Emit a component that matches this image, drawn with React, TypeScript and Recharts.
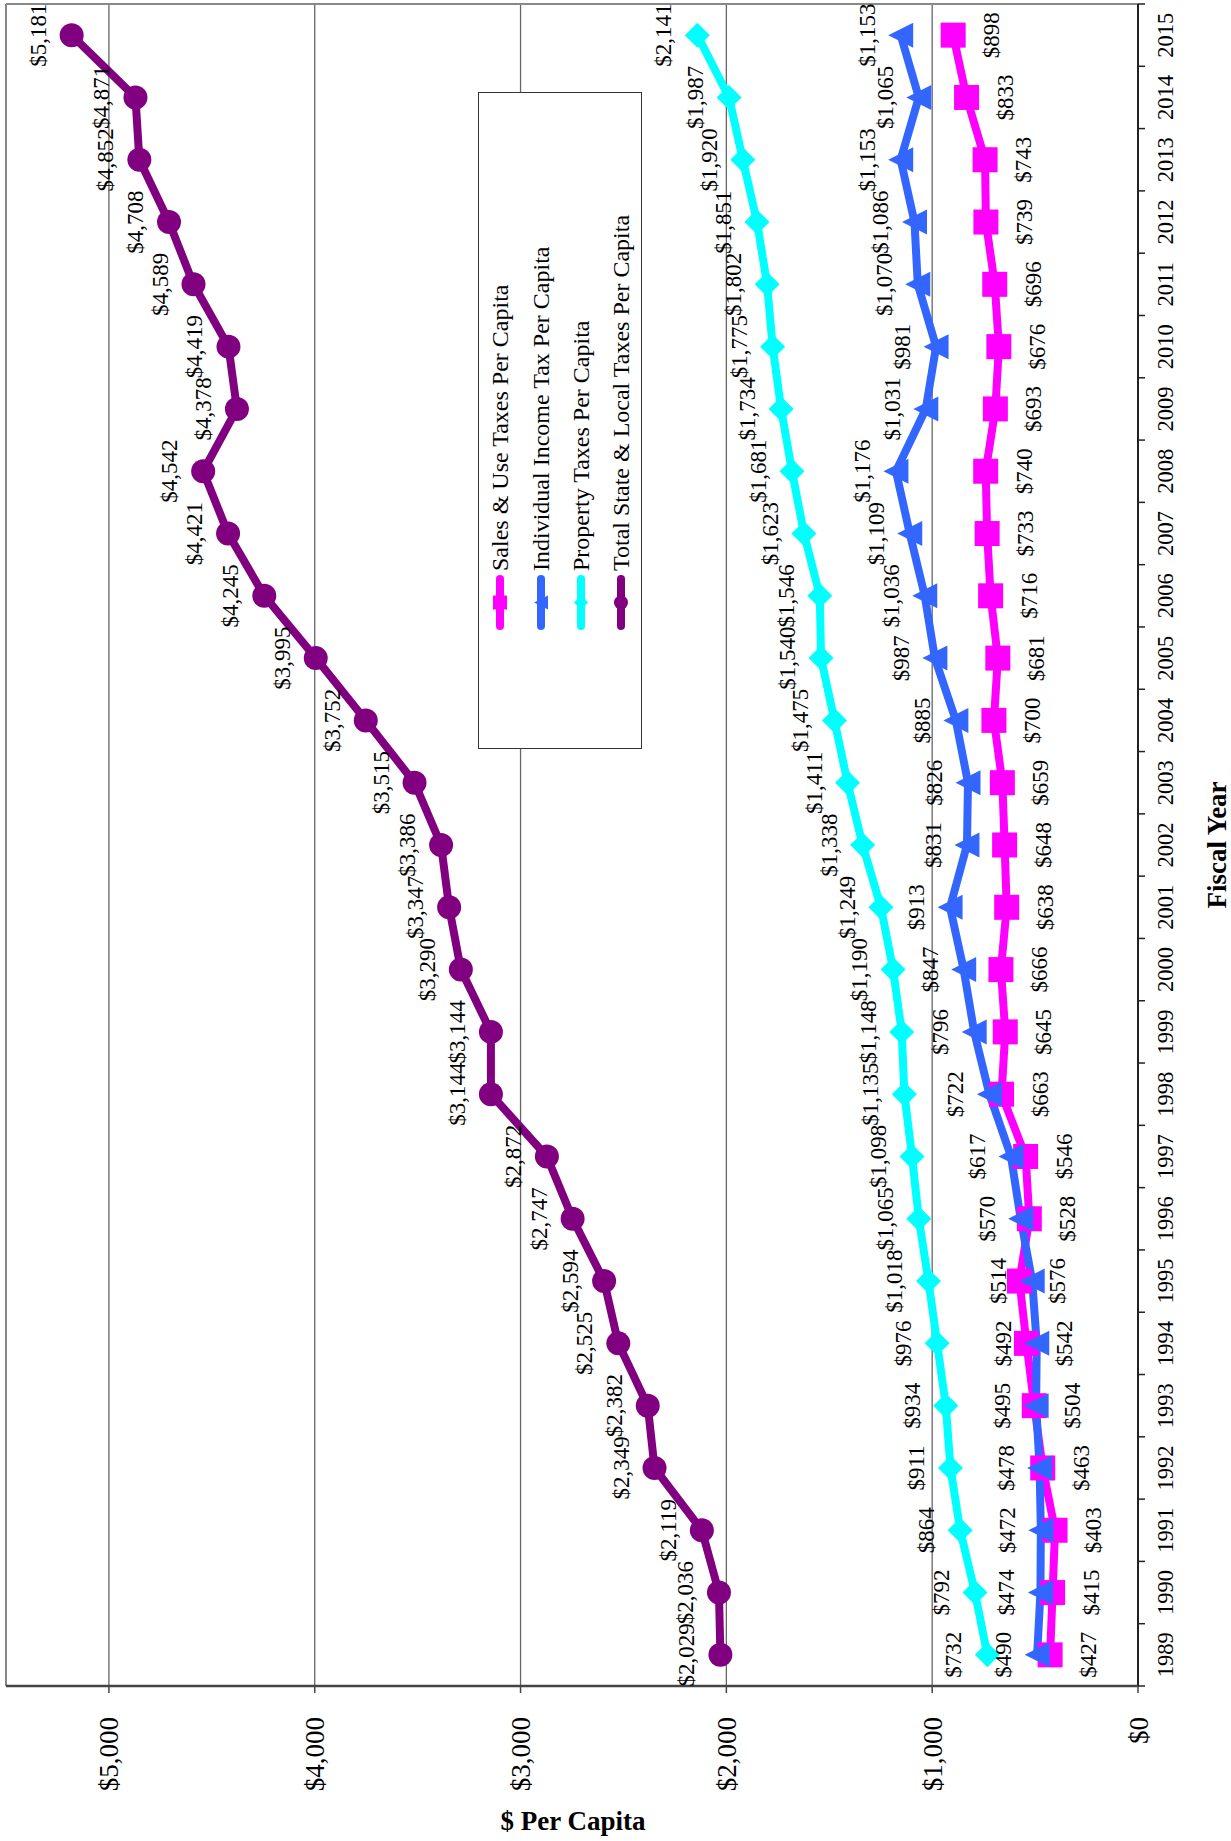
import {
  CartesianGrid,
  Label,
  LabelList,
  Line,
  LineChart,
  ReferenceLine,
  XAxis,
  YAxis,
} from 'recharts'

const years = [
  1989, 1990, 1991, 1992, 1993, 1994, 1995, 1996, 1997, 1998, 1999, 2000, 2001,
  2002, 2003, 2004, 2005, 2006, 2007, 2008, 2009, 2010, 2011, 2012, 2013, 2014,
  2015,
]
const salesUse = [
  427, 415, 403, 463, 504, 542, 576, 528, 546, 663, 645, 666, 638, 648, 659,
  700, 681, 716, 733, 740, 693, 676, 696, 739, 743, 833, 898,
]
const incomeTax = [
  490, 474, 472, 478, 495, 492, 514, 570, 617, 722, 796, 847, 913, 831, 826,
  885, 987, 1036, 1109, 1176, 1031, 981, 1070, 1086, 1153, 1065, 1153,
]
const propertyTax = [
  732, 792, 864, 911, 934, 976, 1018, 1065, 1098, 1135, 1148, 1190, 1249, 1338,
  1411, 1475, 1540, 1546, 1623, 1681, 1734, 1775, 1802, 1851, 1920, 1987, 2141,
]
const totalTax = [
  2029, 2036, 2119, 2349, 2382, 2525, 2594, 2747, 2872, 3144, 3144, 3290, 3347,
  3386, 3515, 3752, 3995, 4245, 4421, 4542, 4378, 4419, 4589, 4708, 4852, 4871,
  5181,
]
const valueTicks = [0, 1000, 2000, 3000, 4000, 5000]

const seriesNames = [
  'Sales & Use Taxes Per Capita',
  'Individual Income Tax Per Capita',
  'Property Taxes Per Capita',
  'Total State & Local Taxes Per Capita',
]

const FONT = '"Liberation Serif", "Times New Roman", serif'
const MAGENTA = '#ff00ff'
const BLUE = '#3366ff'
const CYAN = '#00ffff'
const PURPLE = '#800080'

// chart is laid out landscape, then turned a quarter turn counter-clockwise
const W = 1841
const H = 1231

const data = years.map((year, i) => ({
  i,
  year,
  sales: salesUse[i],
  income: incomeTax[i],
  property: propertyTax[i],
  total: totalTax[i],
}))

// half steps: integers carry the year labels, halves carry the tick marks
const xTicks = Array.from({ length: years.length * 2 + 1 }, (_, k) => k / 2 - 0.5)

const money = (v: number) => '$' + Number(v).toLocaleString('en-US')

const YearTick = (props: any) => {
  const { x, y, payload } = props
  const v = payload.value
  if (Number.isInteger(v)) {
    return (
      <text
        x={x}
        y={y}
        dy={16}
        textAnchor="middle"
        fontFamily={FONT}
        fontSize={22.5}
        fill="#000"
      >
        {years[v]}
      </text>
    )
  }
  return <line x1={x} x2={x} y1={y - 19} y2={y - 12} stroke="#222" strokeWidth={1.5} />
}

const circleDot = (p: any) => (
  <circle key={`c${p.index}`} cx={p.cx} cy={p.cy} r={12} fill={PURPLE} />
)
const squareDot = (p: any) => (
  <rect
    key={`s${p.index}`}
    x={p.cx - 12.5}
    y={p.cy - 12.5}
    width={25}
    height={25}
    fill={MAGENTA}
  />
)
const triangleDot = (p: any) => (
  <path
    key={`t${p.index}`}
    d={`M${p.cx},${p.cy - 12.5}L${p.cx + 12.5},${p.cy + 12.5}L${p.cx - 12.5},${p.cy + 12.5}Z`}
    fill={BLUE}
  />
)
const diamondDot = (p: any) => (
  <path
    key={`d${p.index}`}
    d={`M${p.cx},${p.cy - 12.5}L${p.cx + 12.5},${p.cy}L${p.cx},${p.cy + 12.5}L${p.cx - 12.5},${p.cy}Z`}
    fill={CYAN}
  />
)

const labelAt = (dy: number) => (props: any) => {
  const x = props.x ?? props.viewBox?.x
  const y = props.y ?? props.viewBox?.y
  if (x == null || y == null) return null
  return (
    <text
      key={`l${props.index}`}
      x={x}
      y={y + dy}
      textAnchor="middle"
      fontFamily={FONT}
      fontSize={23}
      fill="#000"
    >
      {money(props.value)}
    </text>
  )
}
const above = labelAt(-26)
const below = labelAt(46)

function LegendMark({ color, shape }: { color: string; shape: string }) {
  const c = 27.5
  const m = 10
  let marker = null
  if (shape === 'square') marker = <rect x={c - 7} y={m - 7} width={14} height={14} fill={color} />
  if (shape === 'triangle')
    marker = <path d={`M${c},${m - 7}L${c + 7},${m + 7}L${c - 7},${m + 7}Z`} fill={color} />
  if (shape === 'diamond')
    marker = <path d={`M${c},${m - 7}L${c + 7},${m}L${c},${m + 7}L${c - 7},${m}Z`} fill={color} />
  if (shape === 'circle') marker = <circle cx={c} cy={m} r={7} fill={color} />
  return (
    <svg width={55} height={20} style={{ display: 'block', flex: 'none' }}>
      <line x1={4} x2={51} y1={m} y2={m} stroke={color} strokeWidth={8} strokeLinecap="round" />
      {marker}
    </svg>
  )
}

const legendMarks = [
  { color: MAGENTA, shape: 'square' },
  { color: BLUE, shape: 'triangle' },
  { color: CYAN, shape: 'diamond' },
  { color: PURPLE, shape: 'circle' },
]

export default function App() {
  return (
    <div
      style={{
        position: 'absolute',
        left: 0,
        top: 0,
        width: H,
        height: W,
        overflow: 'hidden',
        background: '#fff',
      }}
    >
      <div
        style={{
          position: 'absolute',
          left: 0,
          top: 0,
          width: W,
          height: H,
          transformOrigin: '0 0',
          transform: `translateY(${W}px) rotate(-90deg)`,
        }}
      >
        <LineChart
          width={W}
          height={H}
          data={data}
          margin={{ top: 6, right: 4, bottom: 0, left: 0 }}
        >
          <CartesianGrid vertical={false} stroke="#666" strokeWidth={1.3} />
          <ReferenceLine y={5500} stroke="#888" strokeWidth={2} />
          <ReferenceLine x={26.5} stroke="#888" strokeWidth={2} />
          <XAxis
            dataKey="i"
            type="number"
            domain={[-0.5, 26.5]}
            ticks={xTicks}
            interval={0}
            height={93}
            tickSize={0}
            tickMargin={19}
            tickLine={false}
            axisLine={{ stroke: '#222', strokeWidth: 2 }}
            tick={<YearTick />}
          >
            <Label
              content={(p: any) => {
                const vb = p.viewBox ?? { x: 155, y: 1138, width: 1682, height: 93 }
                return (
                  <text
                    x={vb.x + vb.width / 2}
                    y={vb.y + 88}
                    textAnchor="middle"
                    fontFamily={FONT}
                    fontSize={27}
                    fontWeight="bold"
                    fill="#000"
                  >
                    Fiscal Year
                  </text>
                )
              }}
            />
          </XAxis>
          <YAxis
            type="number"
            domain={[0, 5500]}
            ticks={valueTicks}
            interval={0}
            width={155}
            tickSize={7}
            tickMargin={24}
            tickFormatter={money}
            axisLine={{ stroke: '#444', strokeWidth: 2.5 }}
            tickLine={{ stroke: '#444', strokeWidth: 1.5 }}
            tick={{ fontSize: 27, fontFamily: FONT, fill: '#000' }}
          >
            <Label
              content={(p: any) => {
                const vb = p.viewBox ?? { x: 0, y: 6, width: 155, height: 1132 }
                const cx = vb.x + 11
                const cy = vb.y + vb.height / 2 + 1
                return (
                  <text
                    x={cx}
                    y={cy}
                    transform={`rotate(90 ${cx} ${cy})`}
                    textAnchor="middle"
                    fontFamily={FONT}
                    fontSize={27}
                    fontWeight="bold"
                    fill="#000"
                  >
                    $ Per Capita
                  </text>
                )
              }}
            />
          </YAxis>

          <Line
            dataKey="sales"
            name={seriesNames[0]}
            stroke={MAGENTA}
            strokeWidth={8}
            strokeLinejoin="round"
            dot={squareDot}
            activeDot={false}
            isAnimationActive={false}
          />
          <Line
            dataKey="income"
            name={seriesNames[1]}
            stroke={BLUE}
            strokeWidth={8}
            strokeLinejoin="round"
            dot={triangleDot}
            activeDot={false}
            isAnimationActive={false}
          />
          <Line
            dataKey="property"
            name={seriesNames[2]}
            stroke={CYAN}
            strokeWidth={8}
            strokeLinejoin="round"
            dot={diamondDot}
            activeDot={false}
            isAnimationActive={false}
          />
          <Line
            dataKey="total"
            name={seriesNames[3]}
            stroke={PURPLE}
            strokeWidth={8}
            strokeLinejoin="round"
            dot={circleDot}
            activeDot={false}
            isAnimationActive={false}
          />

          {/* label-only copies so the value labels sit on top of every line */}
          <Line dataKey="sales" stroke="none" dot={false} activeDot={false} isAnimationActive={false}>
            <LabelList dataKey="sales" content={below} />
          </Line>
          <Line dataKey="income" stroke="none" dot={false} activeDot={false} isAnimationActive={false}>
            <LabelList dataKey="income" content={above} />
          </Line>
          <Line dataKey="property" stroke="none" dot={false} activeDot={false} isAnimationActive={false}>
            <LabelList dataKey="property" content={above} />
          </Line>
          <Line dataKey="total" stroke="none" dot={false} activeDot={false} isAnimationActive={false}>
            <LabelList dataKey="total" content={above} />
          </Line>
        </LineChart>

        <div
          style={{
            position: 'absolute',
            left: 1092,
            top: 478,
            width: 657,
            height: 164,
            boxSizing: 'border-box',
            border: '1px solid #333',
            background: '#fff',
            paddingTop: 1,
            paddingLeft: 118,
          }}
        >
          {seriesNames.map((name, k) => (
            <div
              key={name}
              style={{ display: 'flex', alignItems: 'center', height: 40.4 }}
            >
              <LegendMark color={legendMarks[k].color} shape={legendMarks[k].shape} />
              <span
                style={{
                  marginLeft: 4,
                  fontFamily: FONT,
                  fontSize: 24,
                  lineHeight: 1,
                  color: '#000',
                  whiteSpace: 'nowrap',
                }}
              >
                {name}
              </span>
            </div>
          ))}
        </div>
      </div>
    </div>
  )
}
